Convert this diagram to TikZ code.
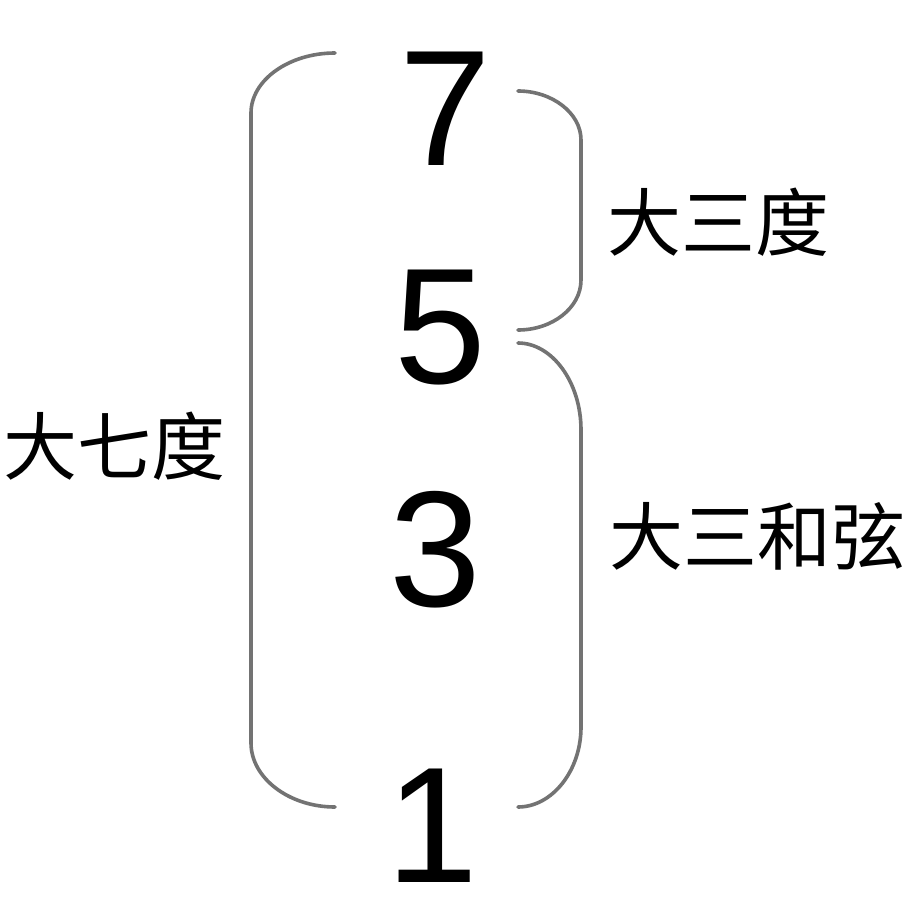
\documentclass[tikz,border=0pt]{standalone}
\usepackage{fontspec}
\setmainfont{Liberation Sans}
\newfontfamily\cjk{Noto Sans CJK SC}
\tikzset{
  bracegray/.style={draw=black!55, line width=3.6pt, line cap=round},
  digit/.style={inner sep=0pt, anchor=base, font=\fontsize{165}{165}\selectfont},
  label/.style={inner sep=0pt, font=\cjk\fontsize{74}{74}\selectfont}
}
\begin{document}
\begin{tikzpicture}[x=1pt,y=-1pt]
\useasboundingbox (0,0) rectangle (917,912);
\fill[white] (0,0) rectangle (917,912);
% digits
\node[digit] (n7) at (445,165) {7};
\node[digit] (n5) at (440,383) {5};
\node[digit] (n3) at (435,606) {3};
\node[digit] (n1) at (432,882) {1};
% labels
\node[label] (l3) at (718,222) {大三度};
\node[label] (ltri) at (757,536) {大三和弦};
\node[label] (l7) at (114,446) {大七度};
% left bracket
\draw[bracegray] (335,53) .. controls (289,53) and (251,80) .. (251,113)
  -- (251,743) .. controls (251,778) and (289,807) .. (335,807);
% upper right brace
\draw[bracegray] (518,91) .. controls (552,91) and (581,113) .. (581,140)
  -- (581,280) .. controls (581,308) and (552,330) .. (518,330);
% lower right brace
\draw[bracegray] (518,343) .. controls (552,343) and (581,382) .. (581,430)
  -- (581,727) .. controls (581,771) and (552,807) .. (518,807);
\end{tikzpicture}
\end{document}
